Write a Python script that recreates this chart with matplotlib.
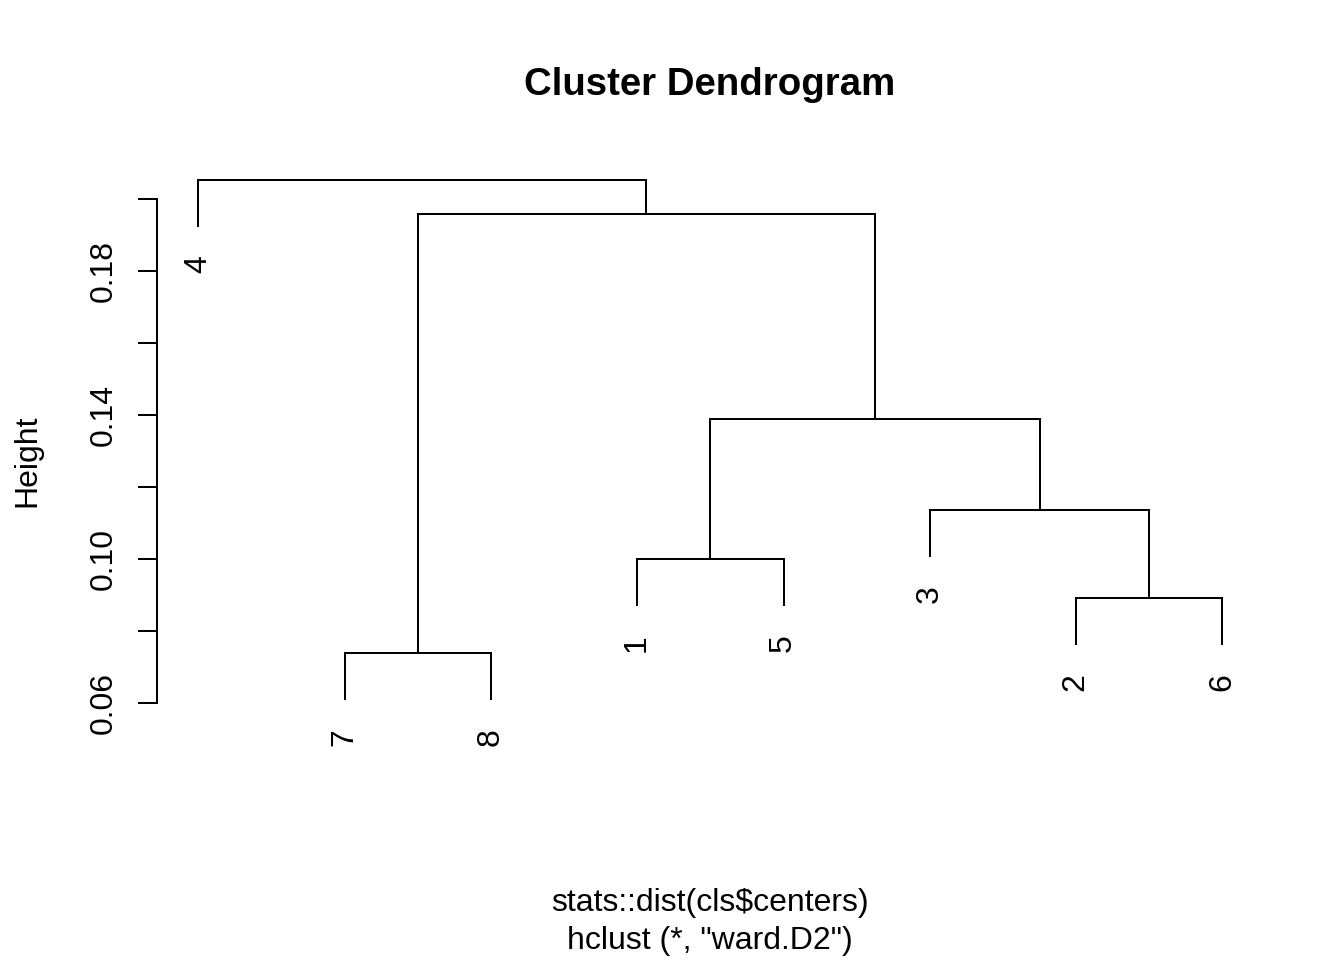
import matplotlib
matplotlib.use('Agg')
import matplotlib.pyplot as plt
from matplotlib import transforms

# ---- data ----
leaf_labels = ['1', '2', '3', '4', '5', '6', '7', '8']
# R-style merge matrix: negative = singleton, positive = earlier merge step
merge = [(-2, -6), (-7, -8), (-1, -5), (-3, 1), (3, 4), (2, 5), (-4, 6)]
merge_heights = [0.0892, 0.0739, 0.1000, 0.1136, 0.1389, 0.1958, 0.2053]
leaf_order = [4, 7, 8, 1, 5, 3, 2, 6]
ytick_values = [0.06, 0.08, 0.10, 0.12, 0.14, 0.16, 0.18, 0.20]
ytick_labels = ['0.06', '', '0.10', '', '0.14', '', '0.18', '']
title = 'Cluster Dendrogram'
xlab = r'stats::dist(cls\$centers)'
sub = 'hclust (*, "ward.D2")'
ylab = 'Height'
hang_frac = 0.1

# ---- figure ----
plt.rcParams['font.family'] = ['Liberation Sans', 'DejaVu Sans']
W, H, DPI = 1344, 960, 192
fig = plt.figure(figsize=(W / DPI, H / DPI), dpi=DPI)
fig.patch.set_facecolor('white')
L, R, T, B = 157.4, 1263.4, 157.4, 764.2
ax = fig.add_axes([L / W, 1 - B / H, (R - L) / W, (B - T) / H])
n = len(leaf_order)
ax.set_xlim(1 - 0.04 * (n - 1), n + 0.04 * (n - 1))
ax.set_ylim(0.04306, 0.21156)

LW = 0.75
hang = hang_frac * (max(merge_heights) - min(merge_heights))
leaf_pos = {leaf: i + 1 for i, leaf in enumerate(leaf_order)}
node_x = {}
leaf_end = {}
for i, (a, b) in enumerate(merge):
    h = merge_heights[i]
    pts = []
    for c in (a, b):
        if c < 0:
            x = leaf_pos[-c]
            yb = h - hang
            leaf_end[-c] = (x, yb)
        else:
            x = node_x[c]
            yb = merge_heights[c - 1]
        pts.append((x, yb))
    (x1, y1), (x2, y2) = pts
    ax.plot([x1, x1, x2, x2], [y1, h, h, y2], color='black', lw=LW,
            solid_joinstyle='miter', solid_capstyle='butt', clip_on=False)
    node_x[i + 1] = (x1 + x2) / 2

# leaf labels
leaf_tr = transforms.offset_copy(ax.transData, fig=fig, x=7.5, y=-28, units='dots')
for leaf, (x, yb) in leaf_end.items():
    ax.text(x, yb, leaf_labels[leaf - 1], transform=leaf_tr, rotation=90,
            rotation_mode='anchor', ha='right', va='baseline', fontsize=12,
            clip_on=False)

# axes styling
for s in ['top', 'right', 'bottom']:
    ax.spines[s].set_visible(False)
ax.spines['left'].set_bounds(ytick_values[0], ytick_values[-1])
ax.spines['left'].set_linewidth(LW)
ax.set_xticks([])
ax.set_yticks(ytick_values)
ax.set_yticklabels([])
ax.tick_params(axis='y', length=7.2, width=LW, direction='out')

blend = transforms.blended_transform_factory(ax.transAxes, ax.transData)
lab_tr = transforms.offset_copy(blend, fig=fig, x=-(L - 112), y=0, units='dots')
for v, s in zip(ytick_values, ytick_labels):
    if s:
        ax.text(0, v, s, transform=lab_tr, rotation=90, rotation_mode='anchor',
                ha='center', va='baseline', fontsize=12)

fig.text(35 / W, 1 - (T + B) / 2 / H, ylab, rotation=90, rotation_mode='anchor',
         ha='center', va='baseline', fontsize=12)
fig.text(710 / W, 1 - 95 / H, title, ha='center', va='baseline',
         fontsize=14.4, fontweight='bold')
fig.text(710 / W, 1 - 911 / H, xlab, ha='center', va='baseline', fontsize=12)
fig.text(710 / W, 1 - 949 / H, sub, ha='center', va='baseline', fontsize=12)

fig.savefig('out.png', dpi=DPI)
